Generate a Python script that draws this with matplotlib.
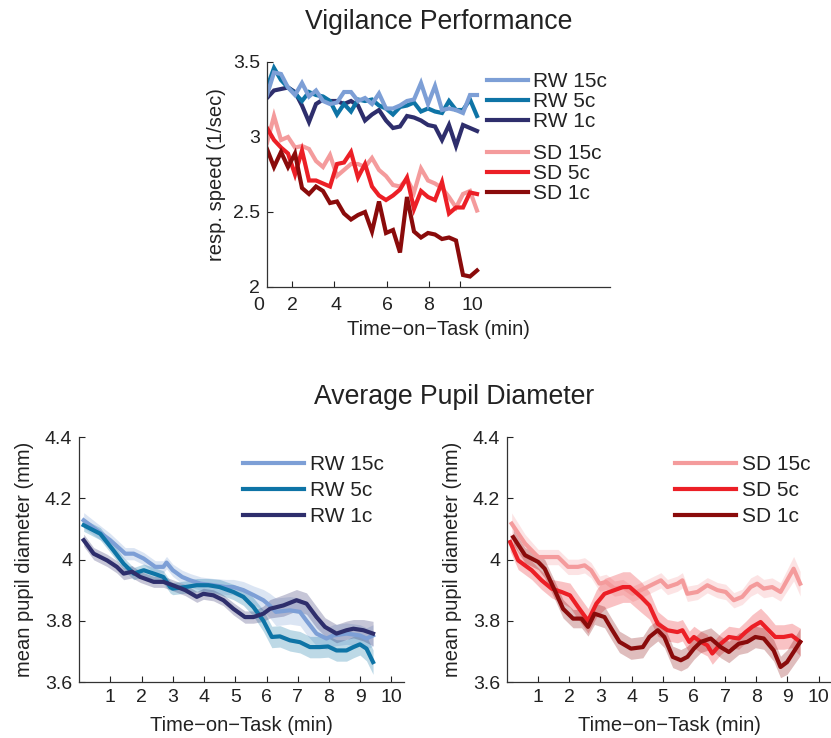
import numpy as np
import matplotlib
matplotlib.use("Agg")
import matplotlib.pyplot as plt
import matplotlib.transforms as mtransforms

plt.rcParams['font.family'] = ['Liberation Sans', 'DejaVu Sans']
plt.rcParams['text.color'] = '#222222'
plt.rcParams['axes.labelcolor'] = '#222222'
plt.rcParams['xtick.color'] = '#222222'
plt.rcParams['ytick.color'] = '#222222'

# ---------------- Vigilance performance (response speed, 1/sec) ----------------
top_bins = np.arange(31)
rw15_speed = [3.28, 3.43, 3.42, 3.33, 3.28, 3.36, 3.27, 3.31, 3.24, 3.22, 3.23, 3.30, 3.30, 3.24, 3.26, 3.22,
              3.29, 3.19, 3.19, 3.21, 3.24, 3.25, 3.36, 3.22, 3.34, 3.18, 3.19, 3.18, 3.16, 3.28, 3.28]
rw5_speed = [3.33, 3.46, 3.38, 3.33, 3.29, 3.24, 3.30, 3.28, 3.27, 3.24, 3.15, 3.22, 3.17, 3.25, 3.24, 3.25,
             3.21, 3.19, 3.15, 3.20, 3.21, 3.23, 3.17, 3.19, 3.17, 3.16, 3.24, 3.18, 3.18, 3.25, 3.14]
rw1_speed = [3.26, 3.31, 3.32, 3.33, 3.30, 3.21, 3.10, 3.22, 3.25, 3.24, 3.24, 3.22, 3.24, 3.21, 3.11, 3.15,
             3.18, 3.11, 3.06, 3.07, 3.14, 3.13, 3.11, 3.08, 3.07, 2.98, 3.08, 2.94, 3.08, 3.06, 3.04]
sd15_speed = [2.96, 3.14, 2.98, 3.00, 2.93, 2.94, 2.92, 2.84, 2.80, 2.88, 2.74, 2.78, 2.82, 2.82, 2.80, 2.86,
              2.78, 2.74, 2.68, 2.67, 2.72, 2.63, 2.79, 2.71, 2.69, 2.66, 2.60, 2.53, 2.62, 2.64, 2.51]
sd5_speed = [3.06, 2.98, 2.93, 2.89, 2.75, 2.91, 2.71, 2.71, 2.69, 2.67, 2.82, 2.83, 2.90, 2.73, 2.82, 2.67,
             2.61, 2.58, 2.61, 2.65, 2.73, 2.52, 2.64, 2.60, 2.58, 2.70, 2.49, 2.53, 2.53, 2.63, 2.62]
sd1_speed = [2.92, 2.80, 2.90, 2.80, 2.89, 2.66, 2.62, 2.67, 2.64, 2.56, 2.57, 2.49, 2.45, 2.48, 2.50, 2.37,
             2.57, 2.36, 2.38, 2.23, 2.60, 2.37, 2.33, 2.36, 2.35, 2.32, 2.33, 2.31, 2.08, 2.07, 2.11]
top_tick_labels = ['0', '2', '4', '6', '8', '10']

# ---------------- Pupil diameter (mm) ----------------
rw15_t = [0.15, 1.0, 1.48, 1.75, 2.07, 2.44, 2.7, 2.8, 3.0, 3.3, 3.56, 3.9, 4.3, 4.7, 4.94, 5.26, 5.6, 5.9, 6.1, 6.3,
          6.75, 7.07, 7.28, 7.6, 7.92, 8.14, 8.56, 8.99, 9.2, 9.41]
rw15_pd = [4.128, 4.063, 4.019, 4.019, 4.003, 3.976, 3.976, 3.99, 3.965, 3.943, 3.932, 3.921, 3.916, 3.91, 3.91,
           3.90, 3.883, 3.867, 3.85, 3.829, 3.834, 3.829, 3.80, 3.758, 3.742, 3.752, 3.758, 3.752, 3.742, 3.752]
rw15_se = [0.025, 0.022, 0.02, 0.02, 0.02, 0.02, 0.02, 0.02, 0.02, 0.022, 0.022, 0.022, 0.022, 0.025, 0.025,
           0.028, 0.03, 0.035, 0.04, 0.045, 0.045, 0.045, 0.045, 0.04, 0.035, 0.035, 0.035, 0.035, 0.035, 0.035]

rw5_t = [0.15, 0.68, 1.1, 1.43, 1.75, 2.07, 2.39, 2.7, 2.92, 3.0, 3.4, 3.77, 4.14, 4.5, 4.94, 5.26, 5.58, 5.9,
         6.17, 6.43, 6.75, 7.07, 7.39, 7.7, 7.97, 8.24, 8.56, 8.78, 8.99, 9.2, 9.41]
rw5_pd = [4.112, 4.084, 4.03, 3.986, 3.954, 3.965, 3.954, 3.943, 3.91, 3.905, 3.91, 3.916, 3.916, 3.91, 3.894,
          3.878, 3.845, 3.80, 3.747, 3.749, 3.736, 3.73, 3.714, 3.714, 3.716, 3.703, 3.703, 3.714, 3.723, 3.709, 3.665]
rw5_se = [0.02, 0.02, 0.02, 0.02, 0.02, 0.02, 0.02, 0.02, 0.02, 0.02, 0.02, 0.022, 0.022, 0.025, 0.025, 0.028,
          0.03, 0.035, 0.035, 0.035, 0.035, 0.035, 0.035, 0.035, 0.035, 0.035, 0.035, 0.035, 0.035, 0.04, 0.04]

rw1_t = [0.15, 0.47, 0.9, 1.21, 1.43, 1.7, 1.96, 2.39, 2.7, 3.0, 3.4, 3.77, 3.98, 4.3, 4.62, 4.94, 5.31, 5.58,
         5.9, 6.11, 6.54, 6.96, 7.28, 7.6, 7.87, 8.24, 8.56, 8.78, 9.1, 9.41]
rw1_pd = [4.063, 4.019, 3.997, 3.976, 3.954, 3.96, 3.943, 3.927, 3.927, 3.916, 3.90, 3.878, 3.888, 3.883, 3.867,
          3.839, 3.812, 3.812, 3.823, 3.839, 3.85, 3.867, 3.856, 3.812, 3.78, 3.758, 3.769, 3.774, 3.769, 3.758]
rw1_se = [0.02, 0.02, 0.02, 0.02, 0.02, 0.02, 0.018, 0.018, 0.018, 0.018, 0.018, 0.018, 0.018, 0.018, 0.018,
          0.02, 0.02, 0.02, 0.025, 0.03, 0.035, 0.035, 0.035, 0.035, 0.03, 0.03, 0.03, 0.03, 0.035, 0.04]

sd15_t = [0.15, 0.58, 1.0, 1.32, 1.64, 1.96, 2.28, 2.49, 2.7, 2.97, 3.18, 3.45, 3.72, 4.03, 4.3, 4.62, 4.94, 5.15,
          5.47, 5.63, 5.79, 6.11, 6.43, 6.75, 7.02, 7.28, 7.55, 7.82, 8.03, 8.24, 8.51, 8.78, 8.99, 9.2, 9.41]
sd15_pd = [4.117, 4.052, 4.008, 4.008, 4.008, 3.976, 3.976, 3.981, 3.965, 3.921, 3.927, 3.905, 3.91, 3.888, 3.90,
           3.916, 3.932, 3.91, 3.921, 3.932, 3.888, 3.894, 3.916, 3.90, 3.894, 3.867, 3.878, 3.91, 3.921, 3.905,
           3.91, 3.894, 3.932, 3.97, 3.921]
sd15_se = [0.035, 0.03, 0.025, 0.025, 0.025, 0.025, 0.025, 0.025, 0.025, 0.025, 0.025, 0.025, 0.025, 0.025, 0.025,
           0.025, 0.025, 0.025, 0.025, 0.025, 0.025, 0.025, 0.025, 0.025, 0.025, 0.025, 0.025, 0.03, 0.03, 0.03,
           0.03, 0.03, 0.035, 0.04, 0.04]

sd5_t = [0.1, 0.36, 0.79, 1.11, 1.43, 1.75, 2.02, 2.28, 2.6, 2.87, 3.13, 3.45, 3.72, 3.94, 4.3, 4.57, 4.84, 5.15,
         5.47, 5.63, 5.85, 6.0, 6.22, 6.43, 6.59, 6.86, 7.12, 7.44, 7.66, 7.87, 8.14, 8.35, 8.61, 8.88, 9.14, 9.41]
sd5_pd = [4.057, 3.997, 3.965, 3.932, 3.905, 3.894, 3.883, 3.845, 3.80, 3.856, 3.888, 3.90, 3.91, 3.91, 3.878,
          3.85, 3.79, 3.769, 3.763, 3.769, 3.731, 3.747, 3.731, 3.72, 3.693, 3.725, 3.747, 3.742, 3.763, 3.78,
          3.796, 3.774, 3.747, 3.747, 3.752, 3.731]
sd5_se = [0.03, 0.03, 0.03, 0.03, 0.03, 0.035, 0.04, 0.04, 0.04, 0.045, 0.05, 0.05, 0.05, 0.05, 0.05, 0.045, 0.04,
          0.035, 0.035, 0.035, 0.035, 0.035, 0.035, 0.035, 0.035, 0.035, 0.035, 0.035, 0.035, 0.04, 0.045, 0.045,
          0.04, 0.04, 0.04, 0.045]

sd1_t = [0.2, 0.58, 1.0, 1.21, 1.53, 1.8, 2.12, 2.39, 2.6, 2.81, 3.13, 3.35, 3.61, 3.98, 4.36, 4.57, 4.84, 5.05,
         5.32, 5.58, 5.79, 6.0, 6.22, 6.54, 6.86, 7.12, 7.44, 7.71, 7.97, 8.24, 8.56, 8.78, 8.99, 9.41]
sd1_pd = [4.073, 4.014, 3.992, 3.97, 3.90, 3.839, 3.807, 3.807, 3.78, 3.823, 3.812, 3.774, 3.731, 3.709, 3.714,
          3.747, 3.769, 3.747, 3.682, 3.671, 3.682, 3.709, 3.731, 3.742, 3.714, 3.698, 3.725, 3.731, 3.747, 3.742,
          3.703, 3.649, 3.665, 3.731]
sd1_se = [0.025, 0.025, 0.025, 0.03, 0.03, 0.03, 0.03, 0.03, 0.03, 0.035, 0.035, 0.035, 0.035, 0.035, 0.035,
          0.035, 0.035, 0.035, 0.035, 0.035, 0.035, 0.035, 0.035, 0.035, 0.035, 0.035, 0.035, 0.035, 0.035, 0.035,
          0.035, 0.035, 0.04, 0.045]

C_RW15, C_RW5, C_RW1 = '#7D9FD6', '#0E74A6', '#2E2E6C'
C_SD15, C_SD5, C_SD1 = '#F49B9C', '#EC1F26', '#8A0B0B'

TICK_FS = 14
LABEL_FS = 14.5
LEG_FS = 15
TITLE_FS = 19.2

fig = plt.figure(figsize=(8.31, 7.38), dpi=100)


def style_axes(ax):
    for s in ('top', 'right'):
        ax.spines[s].set_visible(False)
    for s in ('left', 'bottom'):
        ax.spines[s].set_linewidth(0.9)
        ax.spines[s].set_color('#333333')
    ax.tick_params(direction='in', length=4, width=0.8, labelsize=TICK_FS, pad=5)


# ---------- top panel ----------
ax0 = fig.add_axes([267 / 831, 1 - 287 / 738, 343 / 831, 225 / 738])
style_axes(ax0)
series_top = [(rw15_speed, C_RW15, 'RW 15c'), (rw5_speed, C_RW5, 'RW 5c'), (rw1_speed, C_RW1, 'RW 1c'),
              (sd15_speed, C_SD15, 'SD 15c'), (sd5_speed, C_SD5, 'SD 5c'), (sd1_speed, C_SD1, 'SD 1c')]
draw_order = [3, 4, 5, 2, 1, 0]
lines = {}
for k in draw_order:
    vals, col, lab = series_top[k]
    ln, = ax0.plot(top_bins, vals, color=col, lw=3, label=lab, solid_joinstyle='miter')
    lines[k] = ln
ax0.set_xlim(0, 49)
ax0.set_ylim(2, 3.5)
ax0.set_yticks([2, 2.5, 3, 3.5], ['2', '2.5', '3', '3.5'])
ax0.set_xticks([3.6, 9.5, 17.1, 23.1, 27.5], [''] * 5)
label_pos = [-1.2, 3.7, 9.8, 17.2, 23.1, 29.4]
trans = mtransforms.blended_transform_factory(ax0.transData, ax0.transAxes)
for xp, lab in zip(label_pos, top_tick_labels):
    ax0.text(xp, -0.045, lab, transform=trans, ha='center', va='top', fontsize=TICK_FS, clip_on=False)
ax0.set_xlabel('Time\u2212on\u2212Task (min)', fontsize=LABEL_FS, labelpad=19)
ax0.set_ylabel('resp. speed (1/sec)', fontsize=LABEL_FS, labelpad=5)
ax0.set_title('Vigilance Performance', fontsize=TITLE_FS, pad=24)

leg_kw = dict(frameon=False, fontsize=LEG_FS, handlelength=2.0, handletextpad=0.25, labelspacing=0.05,
              borderpad=0, borderaxespad=0, loc='upper left')
leg1 = ax0.legend([lines[0], lines[1], lines[2]], ['RW 15c', 'RW 5c', 'RW 1c'],
                  bbox_to_anchor=(0.64, 0.955), **leg_kw)
ax0.add_artist(leg1)
ax0.legend([lines[3], lines[4], lines[5]], ['SD 15c', 'SD 5c', 'SD 1c'],
           bbox_to_anchor=(0.64, 0.635), **leg_kw)

# ---------- bottom panels ----------
fig.text(454 / 831, 1 - 397 / 738, 'Average Pupil Diameter', ha='center', va='center', fontsize=TITLE_FS)


def pupil_panel(rect, series, legend_x):
    ax = fig.add_axes(rect)
    style_axes(ax)
    handles = []
    for t, m, se, col, lab in series:
        t = np.asarray(t)
        m = np.asarray(m)
        se = np.asarray(se)
        ax.fill_between(t, m - se, m + se, color=col, alpha=0.27, lw=0)
    for t, m, se, col, lab in series:
        h, = ax.plot(t, m, color=col, lw=3, label=lab)
        handles.append(h)
    ax.set_xlim(0, 10.4)
    ax.set_ylim(3.6, 4.4)
    ax.set_xticks(range(1, 11))
    ax.set_yticks([3.6, 3.8, 4.0, 4.2, 4.4], ['3.6', '3.8', '4', '4.2', '4.4'])
    ax.set_xlabel('Time\u2212on\u2212Task (min)', fontsize=LABEL_FS, labelpad=7)
    ax.set_ylabel('mean pupil diameter (mm)', fontsize=LABEL_FS, labelpad=8)
    ax.legend(handles=handles, frameon=False, fontsize=LEG_FS, handlelength=2.9, handletextpad=0.3,
              labelspacing=0.33, borderpad=0, borderaxespad=0, loc='upper left',
              bbox_to_anchor=(legend_x, 0.925))
    return ax


pupil_panel([79 / 831, 1 - 682 / 738, 325 / 831, 245 / 738],
            [(rw15_t, rw15_pd, rw15_se, C_RW15, 'RW 15c'),
             (rw5_t, rw5_pd, rw5_se, C_RW5, 'RW 5c'),
             (rw1_t, rw1_pd, rw1_se, C_RW1, 'RW 1c')], 0.505)
pupil_panel([507 / 831, 1 - 682 / 738, 324 / 831, 245 / 738],
            [(sd15_t, sd15_pd, sd15_se, C_SD15, 'SD 15c'),
             (sd5_t, sd5_pd, sd5_se, C_SD5, 'SD 5c'),
             (sd1_t, sd1_pd, sd1_se, C_SD1, 'SD 1c')], 0.52)

fig.savefig('out.png', dpi=100)
